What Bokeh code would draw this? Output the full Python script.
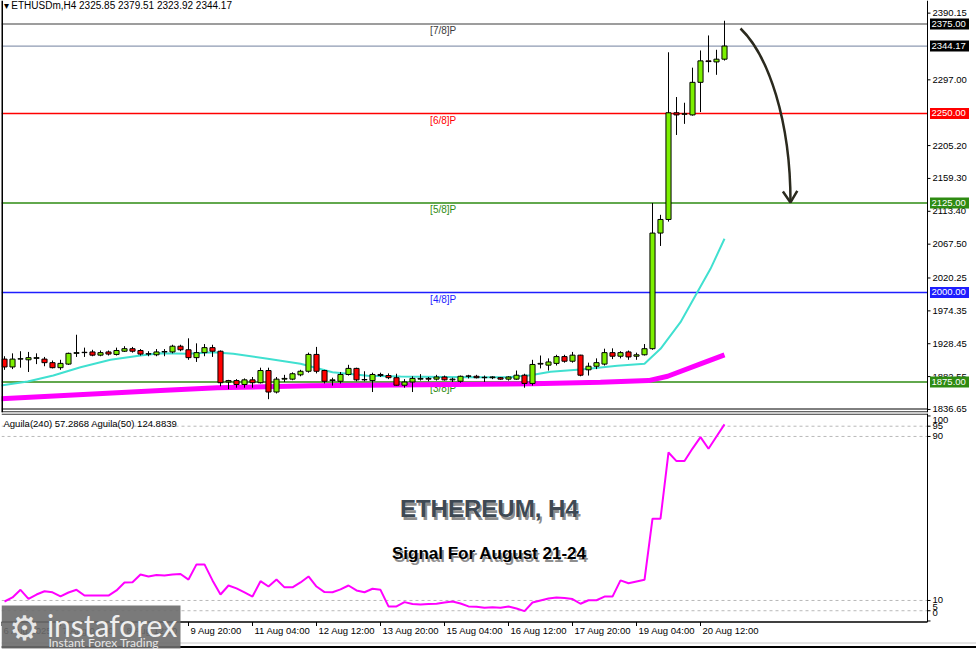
from bokeh.plotting import figure
from bokeh.models import Range1d, Span, ColumnDataSource
from bokeh.layouts import column
from bokeh.embed import file_html
from bokeh.resources import INLINE
from bokeh.core.properties import value

# ETHUSDm H4 candles, first bar = 6 Aug 2025 00:00
opens = [1907, 1896, 1907, 1906, 1908, 1907, 1902, 1895, 1900, 1915,
         1916, 1917, 1912.5, 1917, 1913.5, 1918, 1921.5, 1919, 1914, 1913,
         1917, 1917, 1925, 1920, 1909, 1916, 1923, 1918, 1875, 1877,
         1871.5, 1878, 1874, 1891, 1861, 1879, 1879, 1885, 1890, 1913.5,
         1891, 1877, 1876, 1885.5, 1894, 1878, 1877, 1885.5, 1884, 1881,
         1870.5, 1875, 1879, 1880, 1879, 1882, 1878, 1876, 1883, 1883,
         1881, 1881, 1881, 1879, 1879, 1884.5, 1873, 1900, 1898.5, 1901,
         1910.5, 1904, 1912.5, 1892, 1897, 1900, 1916, 1911, 1917, 1911,
         1913, 1921.5, 2083, 2102, 2251, 2249, 2248, 2293.5, 2323.5, 2322,
         2325.85]
highs = [1911, 1915, 1918, 1917, 1915, 1910, 1905, 1906, 1916, 1941,
         1923, 1920, 1919, 1919, 1923, 1925, 1924, 1921, 1918, 1921,
         1921, 1927, 1927, 1936, 1929, 1928, 1927, 1919, 1878, 1879,
         1880, 1882, 1895, 1895, 1882, 1885, 1888.5, 1892, 1916, 1924,
         1892, 1881, 1889, 1899, 1895, 1890, 1888, 1888, 1887, 1886.5,
         1879, 1883, 1886, 1882, 1885, 1884, 1881, 1884, 1885, 1885,
         1884, 1883, 1882, 1883, 1891, 1886.5, 1906, 1912, 1908, 1913,
         1913, 1917, 1913, 1902, 1908, 1921.5, 1922, 1918, 1919, 1916,
         1928, 2125, 2108.5, 2335.5, 2273, 2265, 2314, 2338, 2359, 2339,
         2379.51]
lows = [1892, 1893, 1895, 1889, 1900, 1897, 1894, 1892, 1899, 1910,
        1910, 1911, 1911, 1912, 1912, 1917, 1916, 1912, 1911, 1911,
        1911, 1915, 1918, 1906, 1903, 1911, 1910, 1869, 1865, 1867,
        1867, 1867, 1873, 1851, 1859, 1875, 1877.5, 1883, 1888, 1887,
        1873, 1870, 1873, 1884, 1876, 1876, 1861, 1882, 1879, 1870,
        1867, 1861, 1877, 1876, 1877, 1877, 1875, 1874, 1880, 1880,
        1875, 1879, 1878, 1877, 1878, 1867, 1870, 1894, 1891, 1898,
        1902, 1902, 1883, 1884, 1893, 1898, 1907, 1908, 1906, 1906,
        1912, 1920, 2065, 2099, 2220, 2235.5, 2247, 2252, 2307.5, 2304,
        2323.92]
closes = [1896, 1907, 1907.5, 1909, 1909, 1902, 1895, 1901, 1915, 1916,
          1916.5, 1912.5, 1916, 1914, 1919, 1921.5, 1918, 1914, 1914.5, 1917,
          1917.5, 1925, 1920, 1909, 1916, 1923, 1918, 1874, 1877, 1871.5,
          1878, 1874, 1891, 1861, 1879, 1880, 1886.5, 1890, 1913.5, 1890,
          1876, 1878, 1885.5, 1894, 1878, 1878.5, 1885.5, 1884, 1881, 1870.5,
          1875, 1880, 1880, 1879, 1882, 1878, 1879, 1883, 1883.5, 1881,
          1881.5, 1882, 1879, 1882, 1884.5, 1873, 1899.5, 1901, 1903, 1910.5,
          1904, 1912.5, 1884.5, 1897, 1902, 1916, 1911, 1916, 1910, 1913,
          1921.5, 2083, 2102, 2251, 2248, 2249.5, 2293.5, 2323.5, 2322.5, 2325.85,
          2344.17]
bars = list(range(len(opens)))

# moving averages (bar position, price)
ma_fast_x = [-0.5, 2.9, 6.1, 9.5, 13.25, 17, 19.5, 22.9, 26.1, 28.6, 32.9, 37, 41, 45.4,
             49.5, 57.9, 62.9, 65.75, 68.25, 72.4, 76.6, 80, 82, 84.5, 86.6, 88.25, 90]
ma_fast_y = [1870, 1875.7, 1884, 1895.7, 1906, 1912, 1915.2, 1914.4, 1916.6, 1914.4, 1907.4,
             1900.4, 1888.5, 1883.7, 1882.7, 1881.7, 1881.7, 1884.5, 1889.2, 1892.9, 1897.6,
             1900.4, 1921.4, 1958.5, 2000.4, 2033, 2075]
ma_slow_x = [-0.5, 19.5, 26.6, 38.25, 66, 74.5, 80.5, 82.9, 87, 90]
ma_slow_y = [1851.6, 1863.1, 1866.9, 1869.7, 1872.5, 1874.7, 1877, 1883, 1900.4, 1913]

# Aguila(240) oscillator
aguila = [9.5, 11.5, 15.2, 10.8, 12.9, 14.5, 14.0, 12.0, 13.9, 15.2,
          12.4, 12.4, 12.4, 12.4, 14.9, 18.8, 18.9, 22.7, 21.7, 22.4,
          22.2, 22.7, 22.9, 20.2, 27.6, 27.6, 19.8, 12.9, 17.3, 15.9,
          13.9, 11.9, 19.4, 16.8, 20.2, 16.4, 16.4, 18.8, 21.7, 16.8,
          14.1, 14.0, 15.4, 17.3, 14.9, 14.0, 15.7, 15.2, 7.1, 7.1,
          9.2, 8.3, 8.0, 8.3, 8.4, 9.0, 9.5, 8.5, 7.1, 6.9,
          6.4, 6.7, 6.4, 7.1, 6.1, 4.8, 9.0, 10.0, 11.0, 11.5,
          11.2, 10.7, 8.4, 10.1, 10.1, 11.9, 11.9, 19.8, 18.4, 19.3,
          20.1, 49.9, 49.9, 82.2, 78.0, 78.0, 84.1, 89.7, 84.0, 90.0,
          95.9]
aguila_levels = [95, 90, 10, 5]
aguila_ticks = [100, 95, 90, 10, 5, 0]
aguila_tick_pos = [98.2, 95, 90, 10, 6.6, 3.7]   # where the scale prints them

level_prices = [2375.0, 2250.0, 2125.0, 2000.0, 1875.0]
level_names = ["[7/8]P", "[6/8]P", "[5/8]P", "[4/8]P", "[3/8]P"]
level_colors = ["#3c3c3c", "#ff0000", "#2e8b12", "#1e1eff", "#2e8b12"]
level_box_colors = ["#000000", "#ff0000", "#2e8b12", "#1e1eff", "#2e8b12"]
bid_price = 2344.17

price_ticks = [2390.15, 2297.00, 2205.20, 2159.30, 2113.40, 2067.50,
               2020.25, 1974.35, 1928.45, 1882.55, 1836.65]
time_ticks = [-0.375, 7, 15, 23, 31, 39, 47, 55, 63, 71, 79, 87]
time_labels = ["6 Aug 2025", "7 Aug 04:00", "8 Aug 12:00", "9 Aug 20:00", "11 Aug 04:00",
               "12 Aug 12:00", "13 Aug 20:00", "15 Aug 04:00", "16 Aug 12:00",
               "17 Aug 20:00", "19 Aug 04:00", "20 Aug 12:00"]

# forecast arrow (bar position, price)
arrow_start = (92, 2368.7)
arrow_c0 = (95.5, 2331.0)
arrow_c1 = (98.25, 2240.2)
arrow_end = (98.25, 2125.7)
arrow_head_x = [97.3, 98.25, 99.1]
arrow_head_y = [2141, 2125.7, 2142]

FONT = "Liberation Sans"
X0, X1 = -0.375, 121.5      # whole canvas width, price scale included
AXIS_X = 115.375            # position of the price scale line
PX = 0.125                  # one pixel in bar units
P_LO, P_HI = 1832.4, 2407.8
PP = (P_HI - P_LO) / 412    # one pixel in price units
A_LO, A_HI = -14.4, 101.2
AP = (A_HI - A_LO) / 237    # one pixel in oscillator units


def scale_text(fig, ticks, pos, labels, fs):
    fig.segment(x0=[AXIS_X] * len(ticks), y0=ticks, x1=[AXIS_X + 3 * PX] * len(ticks),
                y1=ticks, line_color="black", line_width=1)
    fig.text(x=[AXIS_X + 5 * PX] * len(ticks), y=pos, text=labels,
             text_font=value(FONT), text_font_size=fs, text_align="left",
             text_baseline="middle", text_color="black")


def hline(fig, y, x0, x1, color, width=1, dash="solid"):
    fig.segment(x0=[x0], y0=[y], x1=[x1], y1=[y], line_color=color,
                line_width=width, line_dash=dash)


# ---------------- price panel ----------------
main = figure(frame_width=975, frame_height=412, x_range=Range1d(X0, X1),
              y_range=Range1d(P_LO, P_HI), output_backend="svg", toolbar_location=None,
              x_axis_location=None, y_axis_location=None,
              min_border_left=1, min_border_right=0, min_border_top=0, min_border_bottom=1)
main.grid.visible = False
main.outline_line_color = None

for price, col in zip(level_prices, level_colors):
    hline(main, price, X0, AXIS_X, col, 1.2 if col == "#3c3c3c" else 1.6)
hline(main, bid_price, X0, AXIS_X, "#8e9ab2", 1.2)
main.text(x=[53.2] * 5, y=[pr - 7 * PP for pr in level_prices], text=level_names,
          text_color=level_colors, text_font=value(FONT), text_font_size="10px",
          text_baseline="middle")

# moving averages
main.line(ma_slow_x, ma_slow_y, line_color="#ff00ff", line_width=5)
main.line(ma_fast_x, ma_fast_y, line_color="#40e0d0", line_width=2)

# candles
src = ColumnDataSource(dict(
    x=bars, h=highs, l=lows,
    top=[max(o, c) for o, c in zip(opens, closes)],
    bottom=[min(o, c) for o, c in zip(opens, closes)],
    color=["#7cf000" if c >= o else "#ff0000" for o, c in zip(opens, closes)],
))
main.segment("x", "h", "x", "l", source=src, line_color="black", line_width=1)
main.vbar("x", 0.64, "top", "bottom", source=src, fill_color="color",
          line_color="black", line_width=1)

# arrow
main.bezier(x0=[arrow_start[0]], y0=[arrow_start[1]], x1=[arrow_end[0]], y1=[arrow_end[1]],
            cx0=[arrow_c0[0]], cy0=[arrow_c0[1]], cx1=[arrow_c1[0]], cy1=[arrow_c1[1]],
            line_color="#2b2a1e", line_width=2.5)
main.line(arrow_head_x, arrow_head_y, line_color="#2b2a1e", line_width=2.5)

# price scale
main.add_layout(Span(location=AXIS_X, dimension="height", line_color="black", line_width=1))
scale_text(main, price_ticks, price_ticks, [f"{t:.2f}" for t in price_ticks], "9.5px")
box_prices = level_prices + [bid_price]
box_colors = level_box_colors + ["#000000"]
main.rect(x=[AXIS_X + 22 * PX] * 6, y=box_prices, width=39, height=11,
          width_units="screen", height_units="screen", fill_color=box_colors, line_color=None)
main.text(x=[AXIS_X + 4 * PX] * 6, y=box_prices, text=[f"{b:.2f}" for b in box_prices],
          text_font=value(FONT), text_font_size="9.5px", text_align="left",
          text_baseline="middle", text_color="white")

# frame
main.add_layout(Span(location=X0, dimension="height", line_color="black", line_width=3))
hline(main, P_LO + 0.6 * PP, X0, AXIS_X, "black")
hline(main, P_LO + 3.5 * PP, X0, AXIS_X, "black")

main.text(x=[X0 + 2 * PX], y=[P_HI - 5 * PP],
          text=["\u25be ETHUSDm,H4  2325.85 2379.51 2323.92 2344.17"],
          text_font=value(FONT), text_font_size="10px", text_baseline="middle",
          text_color="black")

# ---------------- oscillator panel ----------------
low = figure(frame_width=975, frame_height=237, x_range=main.x_range,
             y_range=Range1d(A_LO, A_HI), output_backend="svg", toolbar_location=None,
             x_axis_location=None, y_axis_location=None,
             min_border_left=1, min_border_right=0, min_border_top=0, min_border_bottom=0)
low.grid.visible = False
low.outline_line_color = None

for lv in aguila_levels:
    hline(low, lv, X0, AXIS_X + 3 * PX, "#b9b9b9", 1, "3 3")
low.line(bars, aguila, line_color="#ff00ff", line_width=2)

low.text(x=[X0 + 2 * PX], y=[A_HI - 10 * AP],
         text=["Aguila(240) 57.2868  Aguila(50) 124.8839"],
         text_font=value(FONT), text_font_size="9.5px", text_baseline="middle",
         text_color="black")

# oscillator scale
low.segment(x0=[AXIS_X], y0=[-0.5], x1=[AXIS_X], y1=[A_HI], line_color="black", line_width=1)
scale_text(low, aguila_ticks, aguila_tick_pos, [str(t) for t in aguila_ticks], "9.5px")

# time scale
hline(low, -0.5, X0, AXIS_X, "black", 1.5)
low.segment(x0=time_ticks, y0=[-0.5] * len(time_ticks), x1=time_ticks,
            y1=[-0.5 - 4 * AP] * len(time_ticks), line_color="black", line_width=1)
low.text(x=[t + 2 * PX for t in time_ticks], y=[-4.6] * len(time_ticks), text=time_labels,
         text_font=value(FONT), text_font_size="9.5px", text_align="left",
         text_baseline="middle", text_color="black")

# frame
hline(low, A_HI - 0.6 * AP, X0, AXIS_X, "black")
hline(low, A_LO + 7.5 * AP, X0, X1, "#c8c8c8")
hline(low, A_LO + 3.5 * AP, X0, X1, "black", 2)

# headline texts
HX = 60.6
for txt, yy, size, col in [("ETHEREUM, H4", 54.9, "24px", "#3e4954"),
                           ("Signal For August 21-24", 32.9, "17px", "black")]:
    low.text(x=[HX + 2 * PX], y=[yy - 3 * AP], text=[txt], text_font=value(FONT),
             text_font_style="bold", text_font_size=size, text_align="center",
             text_baseline="middle", text_color="#7a7a7a", text_alpha=0.85)
    low.text(x=[HX - 1 * PX], y=[yy + 1 * AP], text=[txt], text_font=value(FONT),
             text_font_style="bold", text_font_size=size, text_align="center",
             text_baseline="middle", text_color="white")
    low.text(x=[HX], y=[yy], text=[txt], text_font=value(FONT),
             text_font_style="bold", text_font_size=size, text_align="center",
             text_baseline="middle", text_color=col)

# logo block
low.quad(left=[X0], right=[22.0], bottom=[-13.4], top=[7.6], fill_color="#6b6b6b",
         fill_alpha=0.9, line_color=None)
low.text(x=[2.5], y=[-3.6], text=["\u2699"], text_font=value("DejaVu Sans"),
         text_font_size="34px", text_align="center", text_baseline="middle",
         text_color="#e6e6e6")
low.text(x=[5.3], y=[-2.2], text=["instaforex"], text_font=value("Lato"),
         text_font_size="30px", text_align="left", text_baseline="middle",
         text_color="#eeeeee")
low.text(x=[5.5], y=[-10.6], text=["Instant Forex Trading"], text_font=value("Lato"),
         text_font_size="12px", text_align="left", text_baseline="middle",
         text_color="#e6e6e6")

layout = column(main, low, spacing=0)
open("out.html", "w").write(file_html(layout, INLINE))
